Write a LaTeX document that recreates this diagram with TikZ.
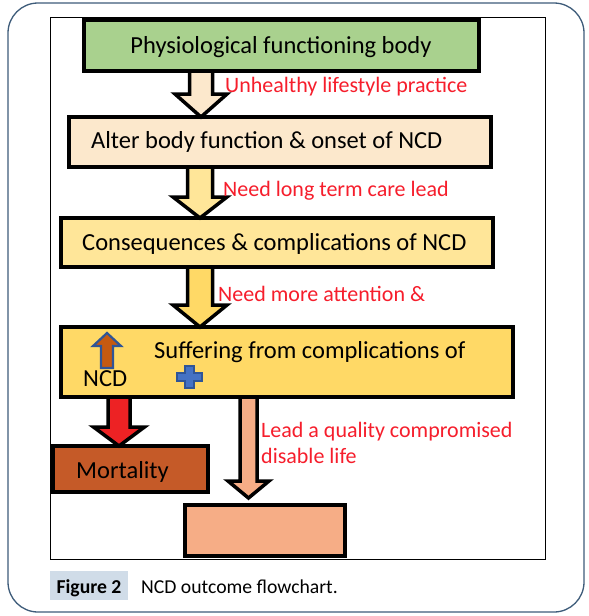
\documentclass[tikz,border=0pt]{standalone}
\usepackage{fontspec}
\setmainfont{Carlito}
\usetikzlibrary{calc}
\definecolor{framecol}{RGB}{62,92,122}
\definecolor{greenbox}{RGB}{169,209,142}
\definecolor{peach}{RGB}{252,232,204}
\definecolor{lightyel}{RGB}{255,230,153}
\definecolor{yel}{RGB}{255,217,102}
\definecolor{labred}{RGB}{246,30,44}
\definecolor{brownbox}{RGB}{197,90,40}
\definecolor{redarr}{RGB}{237,34,36}
\definecolor{salmon}{RGB}{246,173,134}
\definecolor{capbox}{RGB}{208,220,232}
\definecolor{bluefill}{RGB}{68,114,196}
\definecolor{blueline}{RGB}{47,85,151}
\definecolor{upbrown}{RGB}{197,90,17}
\tikzset{
  box/.style={draw=black, line width=3.5pt, outer sep=0pt, inner sep=0pt, anchor=north west},
  arrowline/.style={draw=black, line width=3.5pt, line join=miter},
  boxtext/.style={inner sep=0pt, font=\fontsize{24.5}{28}\selectfont, text=black},
  lbl/.style={inner sep=0pt, font=\fontsize{22}{26}\selectfont, text=labred, anchor=base west},
  iconline/.style={draw=blueline, line width=2.2pt, line join=miter},
}
\newcommand\blockarrow[7]{%
  \draw[arrowline, fill=#7] let \p1=#1, \p2=#2, \p3=(#3,0) in
   (\x3-#4pt,\y1) -- (\x3-#4pt,\y2+#6pt) -- (\x3-#5pt,\y2+#6pt) -- (\x3,\y2)
   -- (\x3+#5pt,\y2+#6pt) -- (\x3+#4pt,\y2+#6pt) -- (\x3+#4pt,\y1) -- cycle;}
\begin{document}
\begin{tikzpicture}[x=1pt,y=-1pt]
\useasboundingbox (0,0) rectangle (589,616);
\fill[white] (0,0) rectangle (589,616);
% outer frame and inner frame
\draw[framecol, line width=1.3pt, rounded corners=30pt] (8,3) rectangle (584,612);
\draw[black, line width=1pt] (50,17) rectangle (545,559);
% boxes (positions)
\coordinate (p1) at (84,20);
\coordinate (p2) at (69,117);
\coordinate (p3) at (61,218);
\coordinate (p4) at (61,327);
\coordinate (p5) at (53,446);
\coordinate (p6) at (185,505);
\node[box, fill=greenbox, minimum width=395pt, minimum height=51pt] (b1) at (p1) {};
\node[box, fill=peach, minimum width=422pt, minimum height=50pt] (b2) at (p2) {};
\node[box, fill=lightyel, minimum width=432pt, minimum height=49pt] (b3) at (p3) {};
\node[box, fill=yel, minimum width=452pt, minimum height=70pt] (b4) at (p4) {};
\node[box, fill=brownbox, minimum width=155pt, minimum height=46pt] (b5) at (p5) {};
\node[box, fill=salmon, minimum width=160pt, minimum height=51pt] (b6) at (p6) {};
% block arrows
\blockarrow{(b1.south)}{(b2.north)}{201}{11.5}{26}{23}{peach}
\blockarrow{(b2.south)}{(b3.north)}{200}{12.5}{27}{21}{lightyel}
\blockarrow{(b3.south)}{(b4.north)}{200}{12.5}{27}{22}{yel}
\blockarrow{(b4.south)}{(b5.north)}{119}{11}{25.5}{19}{redarr}
\blockarrow{(b4.south)}{($(b6.north)+(0,-7)$)}{248.5}{8.5}{20.5}{17}{salmon}
% redraw box borders on top
\foreach \b in {b1,b2,b3,b4,b5,b6} {\draw[line width=3.5pt] (\b.south west) rectangle (\b.north east);}
% box texts
\node[boxtext, anchor=base] (t1) at (281,53) {Physiological functioning body};
\node[boxtext, anchor=base west] (t2) at (91,148) {Alter body function \& onset of NCD};
\node[boxtext, anchor=base west] (t3) at (82,250) {Consequences \& complications of NCD};
\node[boxtext, anchor=base west] (t4) at (154,358) {Suffering from complications of};
\node[boxtext, anchor=base west] (t4b) at (83,386) {NCD};
\node[boxtext, anchor=base west] (t5) at (76,478) {Mortality};
% up arrow and plus sign
\draw[iconline, fill=upbrown]
  (107,333) -- (121,346) -- (113,346) -- (113,368) -- (101,368) -- (101,346) -- (93,346) -- cycle;
\draw[iconline, fill=bluefill]
  (185,366) -- (194,366) -- (194,373) -- (202,373) -- (202,381) -- (194,381) -- (194,388)
  -- (185,388) -- (185,381) -- (177,381) -- (177,373) -- (185,373) -- cycle;
% labels
\node[lbl] (l1) at (225,92) {Unhealthy lifestyle practice};
\node[lbl] (l2) at (223,196) {Need long term care lead};
\node[lbl] (l3) at (218,301) {Need more attention \&};
\node[lbl] (l4) at (261,437) {Lead a quality compromised};
\node[lbl] (l4b) at (261,463) {disable life};
% caption
\fill[capbox] (50,571) rectangle (128,600);
\node[inner sep=0pt, anchor=base, font=\fontsize{19.7}{22}\selectfont\bfseries] (cap1) at (89,593) {Figure 2};
\node[inner sep=0pt, anchor=base west, font=\fontsize{19.7}{22}\selectfont] (cap2) at (141,593) {NCD outcome flowchart.};
\end{tikzpicture}
\end{document}
